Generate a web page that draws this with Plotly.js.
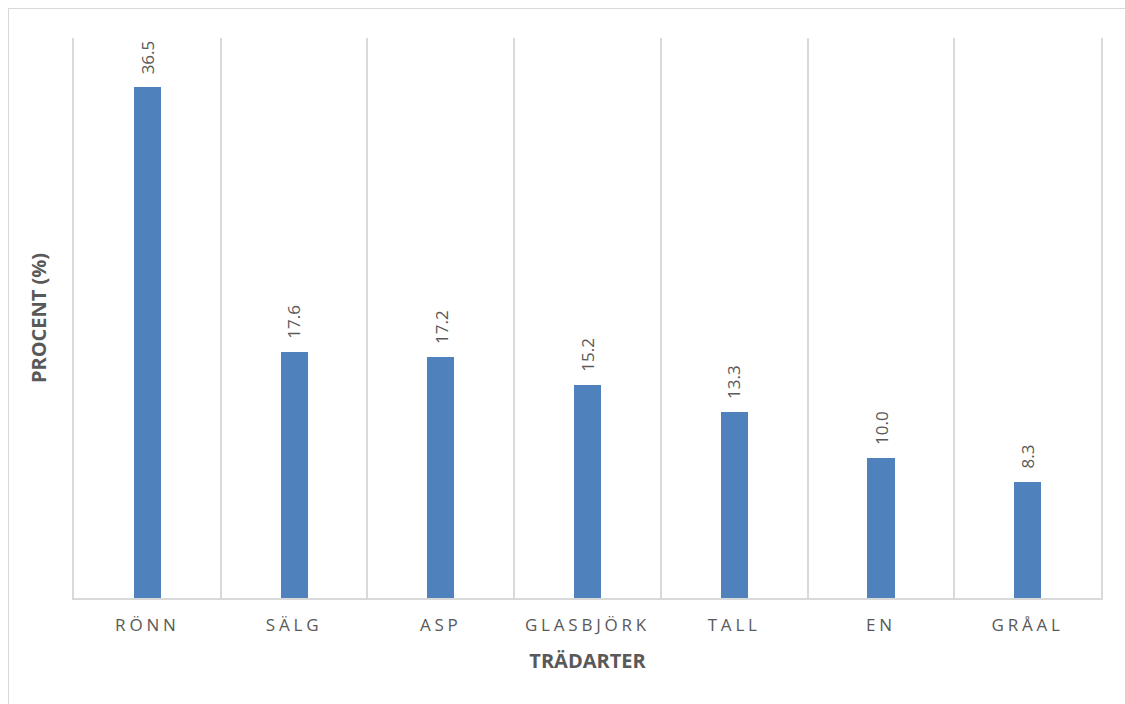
<!DOCTYPE html>
<html>
<head>
<meta charset="utf-8">
<script src="https://cdn.plot.ly/plotly-3.0.1.min.js"></script>
<style>
  html, body { margin: 0; padding: 0; background: #ffffff; }
  #wrap { position: relative; width: 1125px; height: 704px; overflow: hidden; }
  #frame { position: absolute; left: 8px; top: 8px; width: 1200px; height: 800px;
           border-left: 1px solid #d9d9d9; border-top: 1px solid #d9d9d9; pointer-events: none; z-index: 2; }
  #chart { position: absolute; left: 0; top: 0; width: 1125px; height: 704px; }
  .xaxislayer-above .xtick text { letter-spacing: 3.8px; }
</style>
</head>
<body>
<div id="wrap">
  <div id="chart"></div>
  <div id="frame"></div>
</div>
<script>
const categories = ["RÖNN", "SÄLG", "ASP", "GLASBJÖRK", "TALL", "EN", "GRÅAL"];
const values = [36.5, 17.6, 17.2, 15.2, 13.3, 10.0, 8.3];

const grey = "#595959";
const font = "Open Sans, Liberation Sans, sans-serif";

const trace = {
  type: "bar",
  x: categories,
  y: values,
  width: 0.185,
  marker: { color: "#4f81bd", line: { width: 0 } },
  hoverinfo: "skip"
};

const annotations = categories.map((c, i) => ({
  x: c, y: values[i], xref: "x", yref: "y",
  text: values[i].toFixed(1),
  textangle: -90,
  showarrow: false,
  yanchor: "bottom",
  xanchor: "center",
  yshift: 11,
  font: { family: font, size: 17, color: grey }
}));

const layout = {
  width: 1125, height: 704,
  margin: { l: 74, r: 24, t: 38, b: 106 },
  paper_bgcolor: "rgba(0,0,0,0)",
  plot_bgcolor: "#ffffff",
  showlegend: false,
  bargap: 0,
  xaxis: {
    type: "category",
    tickson: "boundaries",
    showgrid: true,
    gridcolor: "#d9d9d9",
    gridwidth: 2,
    ticks: "",
    showline: true,
    linecolor: "#d9d9d9",
    linewidth: 2,
    tickfont: { family: font, size: 17, color: grey },
    ticklabelstandoff: 11,
    title: { text: "<b>TRÄDARTER</b>", font: { family: font, size: 20, color: grey }, standoff: 19 },
    fixedrange: true
  },
  yaxis: {
    range: [0, 40],
    showgrid: false,
    zeroline: false,
    showticklabels: false,
    ticks: "",
    showline: true,
    mirror: true,
    linecolor: "#d9d9d9",
    linewidth: 2,
    title: { text: "<b>PROCENT (%)</b>", font: { family: font, size: 20, color: grey }, standoff: 20 },
    fixedrange: true
  },
  annotations: annotations
};

Plotly.newPlot("chart", [trace], layout, { staticPlot: true, displayModeBar: false });
</script>
</body>
</html>
